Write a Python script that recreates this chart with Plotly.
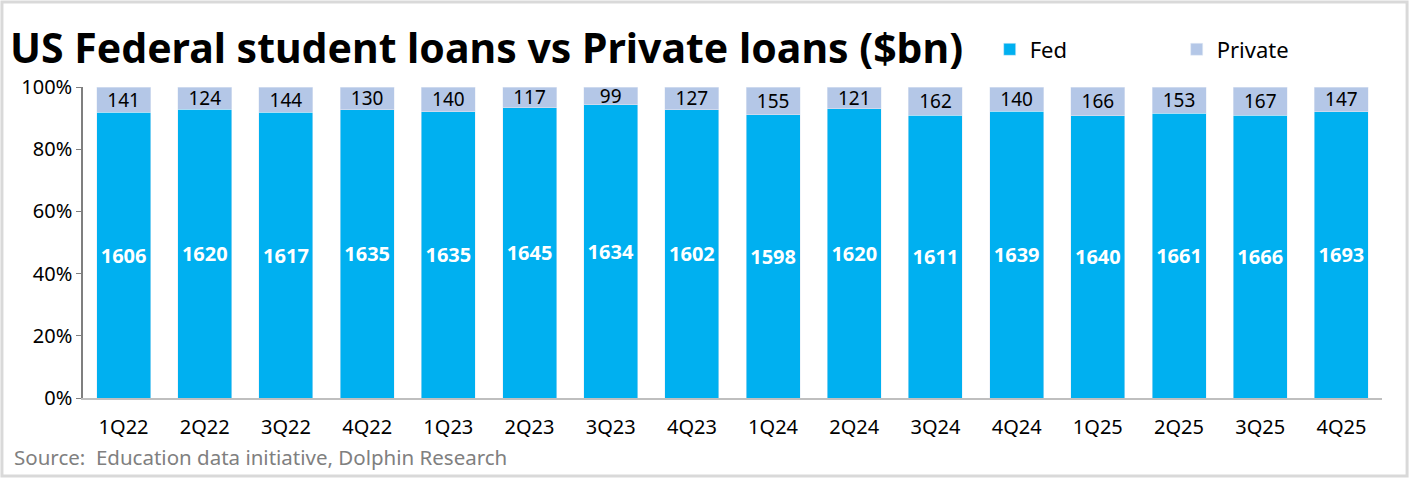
import plotly.graph_objects as go

quarters = ['1Q22', '2Q22', '3Q22', '4Q22', '1Q23', '2Q23', '3Q23', '4Q23',
            '1Q24', '2Q24', '3Q24', '4Q24', '1Q25', '2Q25', '3Q25', '4Q25']
fed = [1606, 1620, 1617, 1635, 1635, 1645, 1634, 1602,
       1598, 1620, 1611, 1639, 1640, 1661, 1666, 1693]
private = [141, 124, 144, 130, 140, 117, 99, 127,
           155, 121, 162, 140, 166, 153, 167, 147]

FONT = 'Noto Sans'

fig = go.Figure()
fig.add_bar(x=quarters, y=fed, name='Fed', marker_color='#00B0F0',
            text=fed, textposition='inside', insidetextanchor='middle', textangle=0,
            textfont=dict(color='white', size=20, family=FONT, weight='bold'),
            constraintext='none')
fig.add_bar(x=quarters, y=private, name='Private', marker_color='#B4C7E7',
            text=private, textposition='inside', insidetextanchor='middle', textangle=0,
            textfont=dict(color='black', size=19, family=FONT), constraintext='none')

# whole picture border
fig.add_shape(type='rect', xref='paper', yref='paper',
              x0=-0.0624, x1=1.0193, y0=-0.2508, y1=1.2733,
              line=dict(color='#D9D9D9', width=3), fillcolor='rgba(0,0,0,0)')

fig.add_annotation(text='<b>US Federal student loans vs Private loans ($bn)</b>',
                   xref='paper', yref='paper', x=-0.0574, y=1.128,
                   xanchor='left', yanchor='middle', showarrow=False,
                   font=dict(size=41, color='black', family=FONT))
fig.add_annotation(text='Source:  Education data initiative, Dolphin Research',
                   xref='paper', yref='paper', x=-0.0545, y=-0.19,
                   xanchor='left', yanchor='middle', showarrow=False,
                   font=dict(size=20.5, color='#808080', family=FONT))

fig.update_layout(
    width=1410, height=478,
    margin=dict(l=83, r=28, t=87, b=80, autoexpand=False),
    barmode='stack', barnorm='percent', bargap=0.335,
    plot_bgcolor='white', paper_bgcolor='white',
    font=dict(family=FONT, size=20, color='black'),
    legend=dict(orientation='h', x=0.698, y=1.1206, xanchor='left', yanchor='middle',
                font=dict(size=22, family=FONT), itemwidth=30,
                entrywidth=142, traceorder='normal'),
    uniformtext=dict(mode=False),
)
fig.update_xaxes(showline=True, linecolor='#BFBFBF', linewidth=1.5,
                 tickfont=dict(size=20), ticks='', ticklabelstandoff=10,
                 fixedrange=True)
fig.update_yaxes(range=[0, 100], dtick=20, ticksuffix='%', showgrid=False,
                 showline=True, linecolor='#7F7F7F', linewidth=1.5,
                 ticks='outside', ticklen=5, tickcolor='#7F7F7F',
                 tickfont=dict(size=20), zeroline=False)

fig.write_html('out.html', config={'displayModeBar': False},
               post_script="document.body.style.margin='0';document.body.style.overflow='hidden';")
